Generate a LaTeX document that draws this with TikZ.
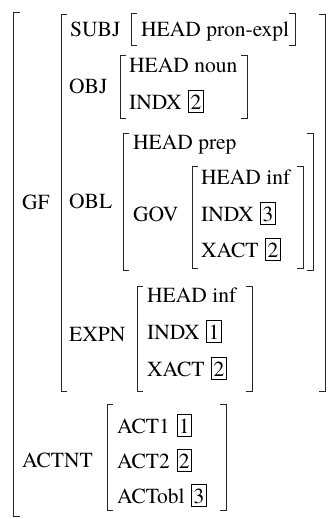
\documentclass[tikz,border=0pt]{standalone}
\usepackage{fontspec}
\IfFontExistsTF{texgyretermes-regular.otf}
  {\newfontfamily\avmfont{texgyretermes-regular.otf}}
  {\newfontfamily\avmfont{Liberation Serif}}
\newcommand{\tagbox}[1]{\hspace{1.5pt}{\setlength{\fboxsep}{1.5pt}\setlength{\fboxrule}{0.75pt}\fbox{\rule[-1pt]{0pt}{17.5pt}#1}}}
\newcommand{\avmbrk}[4]{% left x, right x, top y, bottom y
  \draw[brk] (#1+6,#3) -- (#1,#3) -- (#1,#4) -- (#1+6,#4);
  \draw[brk] (#2-6,#3) -- (#2,#3) -- (#2,#4) -- (#2-6,#4);}
\begin{document}
\begin{tikzpicture}[x=1pt,y=-1pt,
  lbl/.style={inner sep=0pt, anchor=base west, font=\avmfont\fontsize{21.5}{25}\selectfont},
  brk/.style={line width=0.8pt, draw=black!85}]
\useasboundingbox (0,0) rectangle (329,519);
% outer bracket (left only)
\draw[brk] (13+7,12) -- (13,12) -- (13,516) -- (13+7,516);
% GF value
\avmbrk{61}{325}{14}{391}
\node[lbl] (gf) at (22,209) {GF};
% SUBJ
\node[lbl] (subj) at (70,37) {SUBJ};
\avmbrk{131}{295}{13}{45}
\node[lbl] (subjhead) at (141,37) {HEAD pron-expl};
% OBJ
\node[lbl] (obj) at (69,93) {OBJ};
\avmbrk{120}{247}{55}{118}
\node[lbl] (objhead) at (129,73) {HEAD noun};
\node[lbl] (objindx) at (129,109) {INDX \tagbox{2}};
% OBL
\node[lbl] (obl) at (69,208) {OBL};
\avmbrk{123}{313}{133}{270}
\node[lbl] (oblhead) at (133,149) {HEAD prep};
\node[lbl] (gov) at (133,221) {GOV};
\avmbrk{192}{303}{166}{268}
\node[lbl] (govhead) at (201,184) {HEAD inf};
\node[lbl] (govindx) at (201,221) {INDX \tagbox{3}};
\node[lbl] (govxact) at (201,257) {XACT \tagbox{2}};
% EXPN
\node[lbl] (expn) at (69,341) {EXPN};
\avmbrk{137}{252}{286}{391}
\node[lbl] (expnhead) at (147,302) {HEAD inf};
\node[lbl] (expnindx) at (147,339) {INDX \tagbox{1}};
\node[lbl] (expnxact) at (147,376) {XACT \tagbox{2}};
% ACTNT
\node[lbl] (actnt) at (22,467) {ACTNT};
\avmbrk{107}{226}{404}{510}
\node[lbl] (act1) at (117,433) {ACT1 \tagbox{1}};
\node[lbl] (act2) at (117,468) {ACT2 \tagbox{2}};
\node[lbl] (actobl) at (117,503) {ACTobl \tagbox{3}};
\end{tikzpicture}
\end{document}
